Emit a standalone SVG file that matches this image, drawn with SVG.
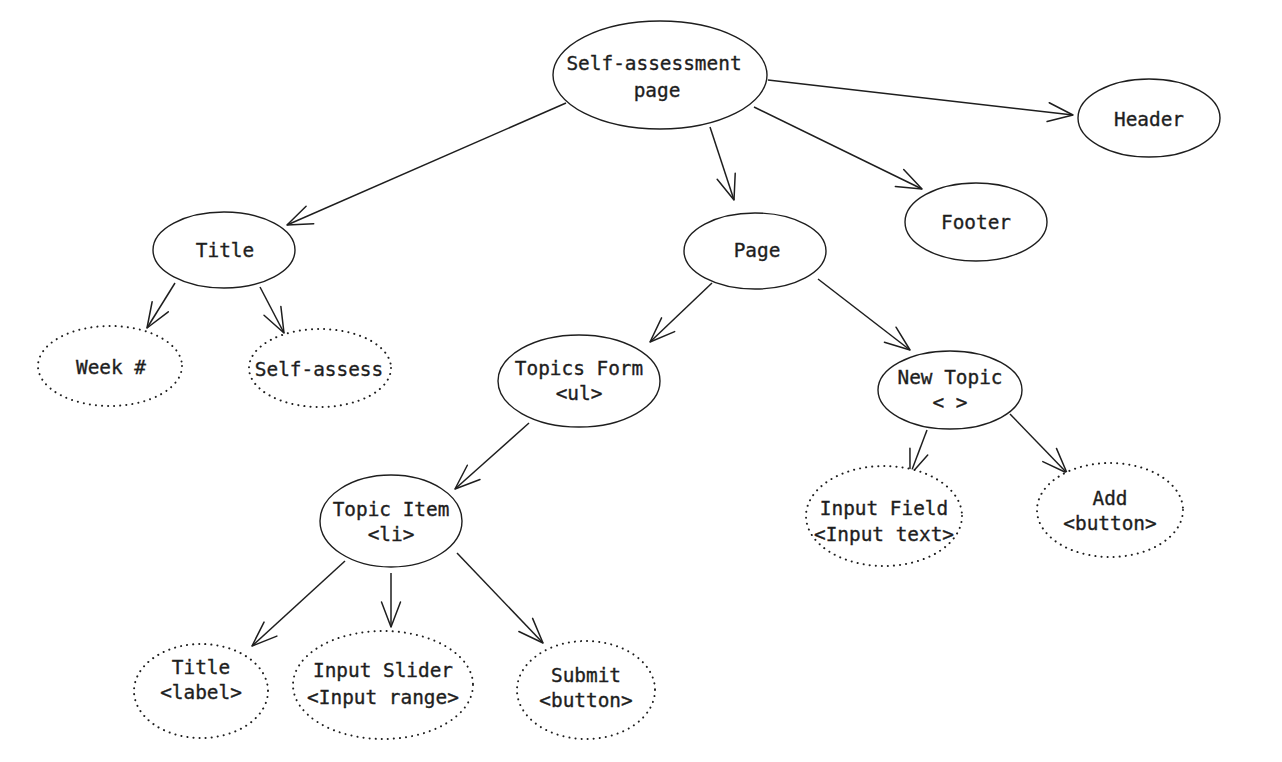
<svg xmlns="http://www.w3.org/2000/svg" width="1282" height="762" viewBox="0 0 1282 762">
<style>
.n{fill:#fff;stroke:#1e1e1e;stroke-width:1.4}
.d{fill:#fff;stroke:#1e1e1e;stroke-width:2;stroke-dasharray:0.1 6;stroke-linecap:round}
.t{font-family:"DejaVu Sans Mono","Liberation Mono",monospace;font-size:19.4px;fill:#1e1e1e;stroke:#1e1e1e;stroke-width:0.35;text-anchor:middle}
.e{fill:none;stroke:#1e1e1e;stroke-width:1.5;marker-end:url(#ah)}
</style>
<defs>
<marker id="ah" markerUnits="userSpaceOnUse" viewBox="-28 -13 31 26" markerWidth="31" markerHeight="26" refX="0" refY="0" orient="auto" overflow="visible">
<path d="M-25,-9.5 L0,0 L-25,9.5" fill="none" stroke="#1e1e1e" stroke-width="1.5" stroke-linecap="round" stroke-linejoin="round"/>
</marker>
</defs>
<rect width="1282" height="762" fill="#fff"/>
<g id="connectors">
<path class="e" d="M566,103 L287,225"/>
<path class="e" d="M710,127 L734,200"/>
<path class="e" d="M754,107 L922,189"/>
<path class="e" d="M768,80 L1073,115"/>
<path class="e" d="M175,283 L147,328"/>
<path class="e" d="M260,287 L284,333"/>
<path class="e" d="M712,283 L650,342"/>
<path class="e" d="M818,279 L910,350"/>
<path class="e" d="M529,423 L455,489"/>
<path class="e" d="M927,430 L910,475"/>
<path class="e" d="M1010,414 L1067,473"/>
<path class="e" d="M345,561 L252,646"/>
<path class="e" d="M391,573 L391,627"/>
<path class="e" d="M457,553 L543,643"/>
</g>
<g id="self-assessment-page"><ellipse class="n" cx="660" cy="75" rx="107" ry="54"/><text class="t" x="654" y="70">Self-assessment</text><text class="t" x="657" y="97">page</text></g>
<g id="header"><ellipse class="n" cx="1149" cy="118" rx="71" ry="39"/><text class="t" x="1149" y="126">Header</text></g>
<g id="footer"><ellipse class="n" cx="976" cy="222" rx="71" ry="39"/><text class="t" x="976" y="229">Footer</text></g>
<g id="title"><ellipse class="n" cx="224" cy="250" rx="71" ry="38"/><text class="t" x="225" y="257">Title</text></g>
<g id="page"><ellipse class="n" cx="755" cy="251" rx="71" ry="38"/><text class="t" x="757" y="257">Page</text></g>
<g id="week"><ellipse class="d" cx="110" cy="366" rx="72" ry="40"/><text class="t" x="111" y="374">Week #</text></g>
<g id="self-assess"><ellipse class="d" cx="320" cy="368" rx="71" ry="39"/><text class="t" x="319" y="376">Self-assess</text></g>
<g id="topics-form"><ellipse class="n" cx="579" cy="381" rx="81" ry="46"/><text class="t" x="579" y="375">Topics Form</text><text class="t" x="579" y="400">&lt;ul&gt;</text></g>
<g id="new-topic"><ellipse class="n" cx="950" cy="390" rx="72" ry="39"/><text class="t" x="950" y="384">New Topic</text><text class="t" x="950" y="409">&lt; &gt;</text></g>
<g id="topic-item"><ellipse class="n" cx="391" cy="521" rx="71" ry="46"/><text class="t" x="391" y="516">Topic Item</text><text class="t" x="391" y="541">&lt;li&gt;</text></g>
<g id="input-field"><ellipse class="d" cx="884" cy="516" rx="78" ry="50"/><text class="t" x="884" y="515">Input Field</text><text class="t" x="884" y="541">&lt;Input text&gt;</text></g>
<g id="add"><ellipse class="d" cx="1110" cy="510" rx="73" ry="47"/><text class="t" x="1110" y="505">Add</text><text class="t" x="1110" y="530">&lt;button&gt;</text></g>
<g id="title-label"><ellipse class="d" cx="201" cy="691" rx="67" ry="47"/><text class="t" x="201" y="674">Title</text><text class="t" x="201" y="699">&lt;label&gt;</text></g>
<g id="input-slider"><ellipse class="d" cx="383" cy="685" rx="90" ry="54"/><text class="t" x="383" y="677">Input Slider</text><text class="t" x="383" y="704">&lt;Input range&gt;</text></g>
<g id="submit"><ellipse class="d" cx="586" cy="690" rx="69" ry="49"/><text class="t" x="586" y="682">Submit</text><text class="t" x="586" y="707">&lt;button&gt;</text></g>
</svg>
